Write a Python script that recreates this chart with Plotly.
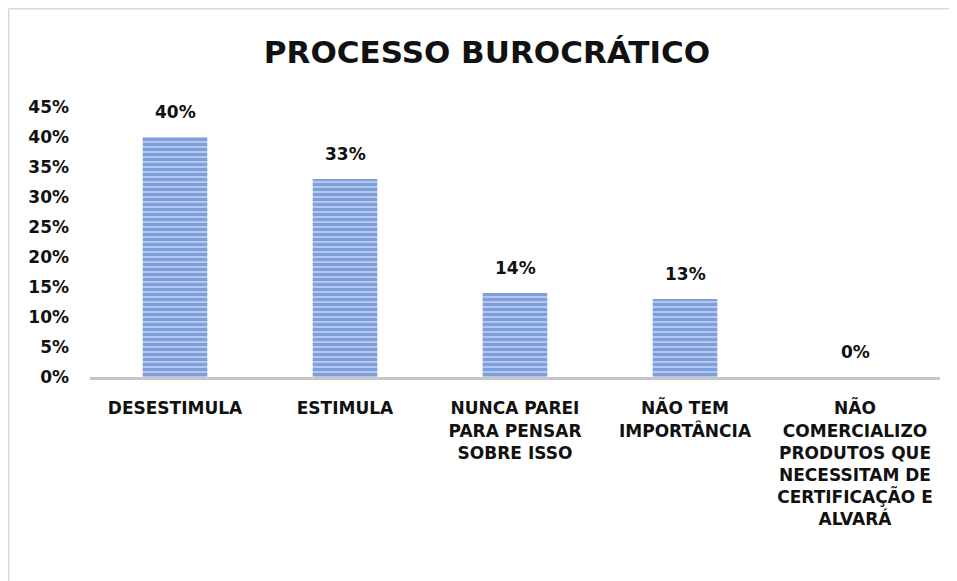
import plotly.graph_objects as go

categories = [
    "DESESTIMULA",
    "ESTIMULA",
    "NUNCA PAREI<br>PARA PENSAR<br>SOBRE ISSO",
    "NÃO TEM<br>IMPORTÂNCIA",
    "NÃO<br>COMERCIALIZO<br>PRODUTOS QUE<br>NECESSITAM DE<br>CERTIFICAÇÃO E<br>ALVARÁ",
]
values = [0.40, 0.33, 0.14, 0.13, 0.0]
y_ticks = [0, 0.05, 0.10, 0.15, 0.20, 0.25, 0.30, 0.35, 0.40, 0.45]

FONT = "DejaVu Sans"
# the page puts the figure 8px in from the window corner, so keep it inside the window
W, H = 949, 573
ml, mr, mt, mb = 82, 17, 99, 204
pw, ph = W - ml - mr, H - mt - mb

fig = go.Figure()
fig.add_trace(go.Bar(
    x=categories,
    y=values,
    width=0.38,
    marker=dict(
        color="#c3d3f1",
        line=dict(width=0),
        pattern=dict(shape="-", fgcolor="#3a6bc8", bgcolor="#c3d3f1",
                     size=5, solidity=0.7),
    ),
))

for c, v in zip(categories, values):
    fig.add_annotation(x=c, y=v, text=f"<b>{v:.0%}</b>", showarrow=False,
                       yanchor="middle", yshift=25,
                       font=dict(family=FONT, size=17, color="#111111"))

fig.update_layout(
    width=W, height=H,
    margin=dict(l=ml, r=mr, t=mt, b=mb),
    paper_bgcolor="white",
    plot_bgcolor="white",
    showlegend=False,
    title=dict(
        text="<b>PROCESSO BUROCRÁTICO</b>",
        x=(487 - 8) / W, xanchor="center", y=1 - 44 / H, yanchor="middle",
        font=dict(family=FONT, size=31, color="#111111"),
    ),
    font=dict(family=FONT, color="#111111"),
)

fig.update_yaxes(
    range=[0, 0.45],
    tickvals=y_ticks,
    tickformat=".0%",
    showgrid=False,
    zeroline=False,
    showline=False,
    ticks="",
    ticklabelstandoff=20,
    tickfont=dict(family=FONT, size=17, color="#111111", weight="bold"),
)
fig.update_xaxes(
    showgrid=False,
    showline=True,
    linecolor="#c6c6c6",
    linewidth=3,
    ticks="",
    ticklabelstandoff=14,
    tickfont=dict(family=FONT, size=17, color="#111111", weight="bold"),
)

# chart border along the figure's left and top edges
bx = -ml / pw + 0.5 / pw
by = (H - mb) / ph - 0.5 / ph
fig.add_shape(type="line", xref="paper", yref="paper", x0=bx, x1=bx, y0=by, y1=-2,
              line=dict(color="#d9d9d9", width=2))
fig.add_shape(type="line", xref="paper", yref="paper", x0=bx, x1=2, y0=by, y1=by,
              line=dict(color="#d9d9d9", width=2))

fig.write_html("out.html")
